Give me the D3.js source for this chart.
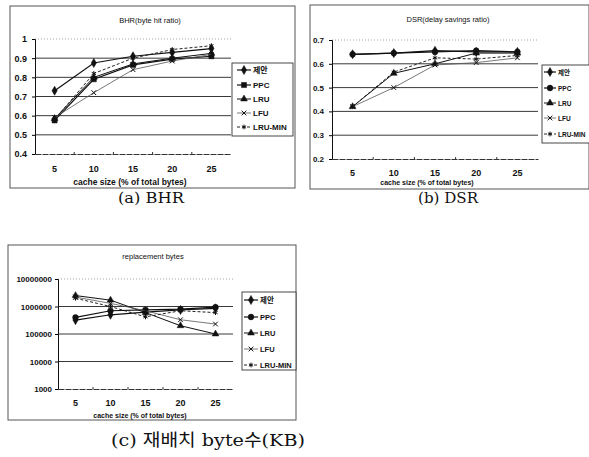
<!DOCTYPE html>
<html>
<head>
<meta charset="utf-8">
<script src="https://cdn.jsdelivr.net/npm/d3@7"></script>
<style>
  body { margin: 0; background: #fff; }
  svg { display: block; }
  text { font-family: "Liberation Sans", Arial, sans-serif; fill: #111; }
  .cap { font-family: "DejaVu Serif", "Noto Sans CJK KR", serif; }
</style>
</head>
<body>
<svg id="chart" width="589" height="457"></svg>
<script>
// cache size categories (% of total bytes)
var sizes = ["5", "10", "15", "20", "25"];
var seriesNames = ["제안", "PPC", "LRU", "LFU", "LRU-MIN"];

// (a) byte hit ratio
var bhrPropose = [0.73, 0.875, 0.91, 0.93, 0.95];
var bhrPPC = [0.575, 0.79, 0.865, 0.895, 0.91];
var bhrLRU = [0.585, 0.80, 0.87, 0.90, 0.925];
var bhrLFU = [0.59, 0.72, 0.84, 0.885, 0.92];
var bhrLRUMIN = [0.58, 0.82, 0.90, 0.945, 0.965];
var bhrTicks = [0.4, 0.5, 0.6, 0.7, 0.8, 0.9, 1];

// (b) delay savings ratio
var dsrPropose = [0.64, 0.645, 0.655, 0.65, 0.65];
var dsrPPC = [0.64, 0.645, 0.65, 0.655, 0.65];
var dsrLRU = [0.42, 0.56, 0.60, 0.645, 0.645];
var dsrLFU = [0.42, 0.50, 0.595, 0.605, 0.625];
var dsrLRUMIN = [0.42, 0.565, 0.625, 0.62, 0.635];
var dsrTicks = [0.2, 0.3, 0.4, 0.5, 0.6, 0.7];

// (c) replacement bytes
var repPropose = [320000, 500000, 620000, 750000, 850000];
var repPPC = [400000, 700000, 760000, 800000, 950000];
var repLRU = [2500000, 1700000, 600000, 200000, 100000];
var repLFU = [2200000, 1300000, 700000, 330000, 230000];
var repLRUMIN = [2000000, 1000000, 420000, 700000, 600000];
var repTicks = [1000, 10000, 100000, 1000000, 10000000];

var svg = d3.select("#chart");

// one style per series: marker, line
var styles = [
  {sym: d3.symbolDiamond, size: 24, fill: true, width: 1.2, dash: null, color: "#111"},
  {sym: d3.symbolSquare, size: 26, fill: true, width: 1.2, dash: null, color: "#111"},
  {sym: d3.symbolTriangle, size: 20, fill: true, width: 1, dash: null, color: "#111"},
  {sym: d3.symbolTimes, size: 16, fill: false, width: 0.8, dash: null, color: "#555"},
  {sym: d3.symbolAsterisk, size: 16, fill: false, width: 1, dash: "3,2", color: "#222"}
];

function drawPanel(cfg) {
  var g = svg.append("g");

  g.append("rect")
    .attr("x", cfg.frame[0]).attr("y", cfg.frame[1])
    .attr("width", cfg.frame[2] - cfg.frame[0])
    .attr("height", cfg.frame[3] - cfg.frame[1])
    .attr("fill", "none").attr("stroke", "#555").attr("stroke-width", 1);

  var x = d3.scaleBand().domain(sizes).range(cfg.xr).padding(0);
  var y = cfg.log ? d3.scaleLog().domain(cfg.yd).range(cfg.yr)
                  : d3.scaleLinear().domain(cfg.yd).range(cfg.yr);
  var cx = function (d, i) { return x(sizes[i]) + x.bandwidth() / 2; };

  // grid
  g.selectAll(".grid").data(cfg.ticks.slice(1)).enter().append("line")
    .attr("x1", cfg.xr[0]).attr("x2", cfg.xr[1])
    .attr("y1", function (d) { return y(d); })
    .attr("y2", function (d) { return y(d); })
    .attr("stroke", function (d, i) { return i === cfg.ticks.length - 2 ? "#999" : "#222"; })
    .attr("stroke-dasharray", function (d, i) { return i === cfg.ticks.length - 2 ? "1,2" : null; })
    .attr("stroke-width", 0.9);

  // axes
  var ya = g.append("g").attr("transform", "translate(" + cfg.xr[0] + ",0)")
    .call(d3.axisLeft(y).tickValues(cfg.ticks).tickSize(3).tickFormat(cfg.fmt));
  ya.select(".domain").attr("stroke", "#111");
  ya.selectAll("text").attr("x", -cfg.lblGap).style("font-size", cfg.yfs + "px")
    .style("font-weight", "bold").attr("fill", "#111");

  var xa = g.append("g").attr("transform", "translate(0," + cfg.yr[0] + ")")
    .call(d3.axisBottom(x).tickSize(0).tickPadding(cfg.xpad));
  xa.select(".domain").attr("stroke", "#333").attr("stroke-dasharray", "6,1");
  xa.selectAll("text").style("font-size", "9px").style("font-weight", "bold").attr("fill", "#111");
  g.selectAll(".xt").data(sizes.slice(1)).enter().append("line")
    .attr("x1", function (d) { return x(d); }).attr("x2", function (d) { return x(d); })
    .attr("y1", cfg.yr[0]).attr("y2", cfg.yr[0] - 2).attr("stroke", "#333");

  g.append("text").attr("x", cfg.title[0]).attr("y", cfg.title[1])
    .attr("text-anchor", "middle").style("font-size", "7.5px").text(cfg.titleText);
  g.append("text").attr("x", cfg.xtitle[0]).attr("y", cfg.xtitle[1])
    .attr("text-anchor", "middle").style("font-size", cfg.xtfs + "px")
    .style("font-weight", "bold").text("cache size (% of total bytes)");

  // series
  cfg.data.forEach(function (vals, k) {
    var st = styles[k];
    var line = d3.line().x(cx).y(function (d) { return y(d); });
    g.append("path").datum(vals).attr("d", line).attr("fill", "none")
      .attr("stroke", st.color).attr("stroke-width", st.width)
      .attr("stroke-dasharray", st.dash);
    var sym = (k === 1 && cfg.circlePPC) ? d3.symbolCircle : st.sym;
    g.selectAll(".m" + k).data(vals).enter().append("path")
      .attr("transform", function (d, i) { return "translate(" + cx(d, i) + "," + y(d) + ")"; })
      .attr("d", d3.symbol().type(sym).size(st.size))
      .attr("fill", st.fill ? "#111" : "none")
      .attr("stroke", "#111").attr("stroke-width", st.fill ? 0.5 : 1);
  });

  // legend
  var lb = cfg.legend;
  g.append("rect").attr("x", lb.box[0]).attr("y", lb.box[1])
    .attr("width", lb.box[2] - lb.box[0]).attr("height", lb.box[3] - lb.box[1])
    .attr("fill", "#fff").attr("stroke", "#333").attr("stroke-width", 0.9);
  seriesNames.forEach(function (name, k) {
    var st = styles[k], ry = lb.rows[k];
    g.append("line").attr("x1", lb.line[0]).attr("x2", lb.line[1])
      .attr("y1", ry).attr("y2", ry).attr("stroke", st.color)
      .attr("stroke-width", st.width).attr("stroke-dasharray", st.dash);
    var sym = (k === 1 && cfg.circlePPC) ? d3.symbolCircle : st.sym;
    g.append("path")
      .attr("transform", "translate(" + (lb.line[0] + lb.line[1]) / 2 + "," + ry + ")")
      .attr("d", d3.symbol().type(sym).size(st.size))
      .attr("fill", st.fill ? "#111" : "none")
      .attr("stroke", "#111").attr("stroke-width", st.fill ? 0.5 : 1);
    g.append("text").attr("x", lb.text).attr("y", ry + 3)
      .style("font-size", lb.fs + "px").style("font-weight", "bold")
      .style("font-family", "'Liberation Sans', 'Noto Sans CJK KR', sans-serif")
      .text(name);
  });

  g.append("text").attr("class", "cap")
    .attr("x", cfg.caption[0]).attr("y", cfg.caption[1])
    .attr("textLength", cfg.caption[2]).attr("lengthAdjust", "spacingAndGlyphs")
    .style("font-size", cfg.caption[3] + "px").text(cfg.captionText);
}

drawPanel({
  frame: [10, 6, 295, 188], xr: [35, 231], yr: [154, 39], yd: [0.4, 1],
  ticks: bhrTicks, fmt: function (d) { return d === 1 ? "1" : d.toFixed(1); },
  lblGap: 8, yfs: 9, xpad: 12, xtfs: 8.5,
  title: [150, 23], titleText: "BHR(byte hit ratio)", xtitle: [130, 185],
  data: [bhrPropose, bhrPPC, bhrLRU, bhrLFU, bhrLRUMIN], circlePPC: false,
  legend: {box: [232, 63, 293, 136], rows: [70, 85, 99, 113, 127], line: [237, 251], text: 253, fs: 8},
  caption: [118, 203, 66, 15], captionText: "(a) BHR"
});

drawPanel({
  frame: [310, 5, 589, 189], xr: [332, 538], yr: [159, 40], yd: [0.2, 0.7],
  ticks: dsrTicks, fmt: function (d) { return d.toFixed(1); },
  lblGap: 8, yfs: 8, xpad: 11, xtfs: 7,
  title: [448, 22], titleText: "DSR(delay savings ratio)", xtitle: [427, 185],
  data: [dsrPropose, dsrPPC, dsrLRU, dsrLFU, dsrLRUMIN], circlePPC: true,
  legend: {box: [542, 65, 594, 143], rows: [72, 88, 103, 118, 134], line: [544, 556], text: 558, fs: 6.5},
  caption: [418, 203, 60, 15], captionText: "(b) DSR"
});

drawPanel({
  frame: [8, 245, 296, 420], xr: [58, 233], yr: [389, 279], yd: [1000, 10000000], log: true,
  ticks: repTicks, fmt: d3.format("d"),
  lblGap: 6, yfs: 8, xpad: 11, xtfs: 7,
  title: [153, 259], titleText: "replacement bytes", xtitle: [140, 418],
  data: [repPropose, repPPC, repLRU, repLFU, repLRUMIN], circlePPC: true,
  legend: {box: [242, 292, 296, 370], rows: [300, 317, 333, 349, 365], line: [244, 258], text: 260, fs: 7.5},
  caption: [111, 446, 194, 17], captionText: "(c) 재배치 byte수(KB)"
});
</script>
</body>
</html>
